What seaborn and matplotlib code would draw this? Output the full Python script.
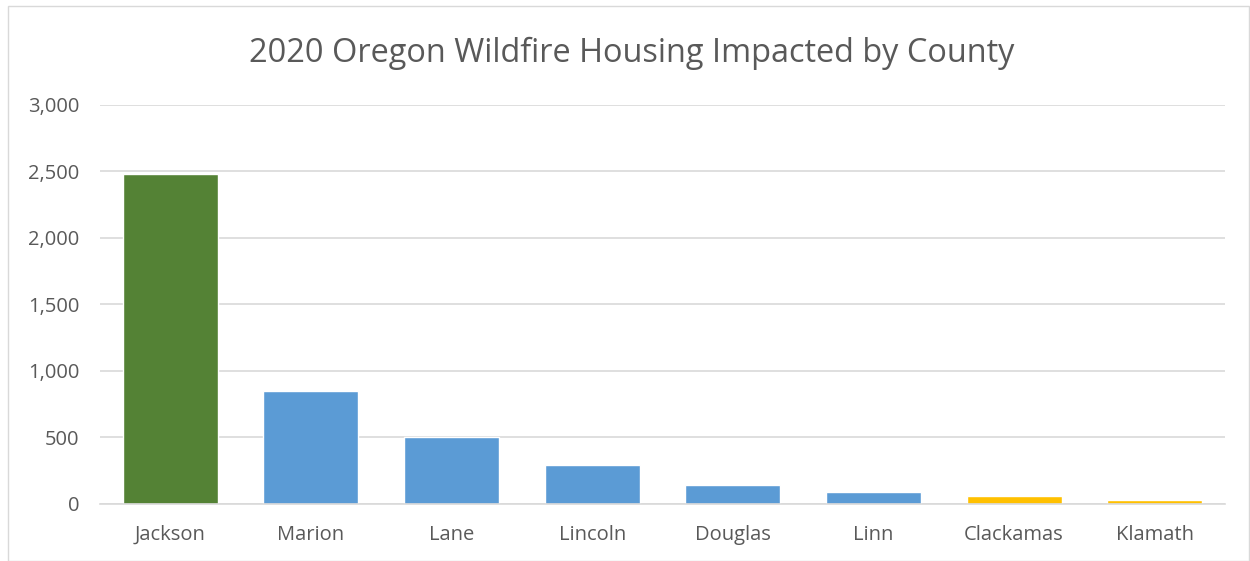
import matplotlib
matplotlib.use("Agg")
import matplotlib.pyplot as plt
import seaborn as sns
import pandas as pd
from matplotlib.ticker import FuncFormatter
from matplotlib.patches import Rectangle

counties = ["Jackson", "Marion", "Lane", "Lincoln", "Douglas", "Linn", "Clackamas", "Klamath"]
housing = [2482, 848, 500, 290, 143, 90, 58, 28]
colors = ["#548235", "#5B9BD5", "#5B9BD5", "#5B9BD5", "#5B9BD5", "#5B9BD5", "#FFC000", "#FFC000"]

df = pd.DataFrame({"county": counties, "housing": housing})

sns.set_style("white")
plt.rcParams["font.family"] = ["Open Sans", "DejaVu Sans"]

fig = plt.figure(figsize=(12.5, 5.61), dpi=100)
ax = fig.add_axes([0.08, 0.102, 0.90, 0.711])

sns.barplot(data=df, x="county", y="housing", hue="county", palette=colors,
            legend=False, width=0.675, saturation=1, ax=ax)

ax.set_ylim(0, 3000)
ax.set_yticks(range(0, 3001, 500))
ax.yaxis.set_major_formatter(FuncFormatter(lambda v, p: f"{int(v):,}"))
ax.grid(axis="y", color="#D9D9D9", linewidth=1.2)
ax.set_axisbelow(True)
for s in ["top", "right", "left"]:
    ax.spines[s].set_visible(False)
ax.spines["bottom"].set_color("#D9D9D9")
ax.spines["bottom"].set_linewidth(1.2)
ax.tick_params(axis="both", length=0, labelsize=14.5, colors="#595959")
ax.tick_params(axis="x", pad=15)
ax.tick_params(axis="y", pad=15)
ax.set_xlabel("")
ax.set_ylabel("")

fig.text(0.505, 0.905, "2020 Oregon Wildfire Housing Impacted by County",
         ha="center", va="center", fontsize=23.4, color="#595959")

fig.patches.append(Rectangle((0.006, 0.0), 0.993, 0.99, transform=fig.transFigure,
                             fill=False, edgecolor="#D9D9D9", linewidth=1))

fig.savefig("out.png", dpi=100)
